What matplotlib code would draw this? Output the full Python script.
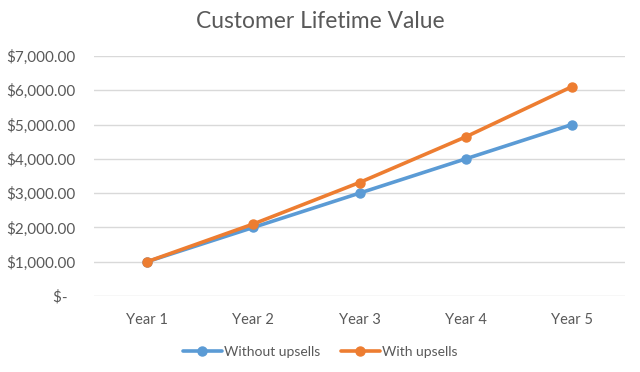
import matplotlib
matplotlib.use("Agg")
import matplotlib.pyplot as plt

categories = ["Year 1", "Year 2", "Year 3", "Year 4", "Year 5"]
without_upsells = [1000, 2000, 3000, 4000, 5000]
with_upsells = [1000, 2100, 3310, 4641, 6105]
y_ticks = [0, 1000, 2000, 3000, 4000, 5000, 6000, 7000]

plt.rcParams['font.family'] = ['Lato', 'DejaVu Sans']
text_color = "#595959"

fig = plt.figure(figsize=(6.4, 3.72), dpi=100)
ax = fig.add_axes([94/640, 1-296/372, (625-94)/640, (296-56)/372])

x = list(range(len(categories)))
ax.plot(x, without_upsells, color="#5B9BD5", lw=2.6, marker="o", ms=6.5, label="Without upsells", solid_capstyle="round", zorder=3)
ax.plot(x, with_upsells, color="#ED7D31", lw=2.6, marker="o", ms=6.5, label="With upsells", solid_capstyle="round", zorder=4)

ax.set_xlim(-0.5, len(categories) - 0.5)
ax.set_ylim(0, 7000)
ax.set_yticks(y_ticks)
def fmt(v):
    return "$-  " if v == 0 else f"${v:,.2f}"
ax.set_yticklabels([fmt(v) for v in y_ticks])
ax.set_xticks(x)
ax.set_xticklabels(categories)
ax.grid(axis="y", color="#D9D9D9", lw=1)
ax.set_axisbelow(True)
for s in ax.spines.values():
    s.set_visible(False)
ax.tick_params(axis="both", length=0, colors=text_color)
ax.tick_params(axis="y", pad=13.7, labelsize=11)
ax.tick_params(axis="x", pad=12, labelsize=10.5)
for lbl in ax.get_yticklabels():
    lbl.set_horizontalalignment("right")

fig.text(0.5, 1-21/372, "Customer Lifetime Value", ha="center", va="center", fontsize=16.4, color=text_color)

leg = fig.legend(loc="center", bbox_to_anchor=(0.5, 1-352/372), ncol=2, frameon=False,
                 fontsize=10, handlelength=2.8, handletextpad=0.15, columnspacing=1.5)
for t in leg.get_texts():
    t.set_color(text_color)

fig.savefig("out.png", dpi=100)
